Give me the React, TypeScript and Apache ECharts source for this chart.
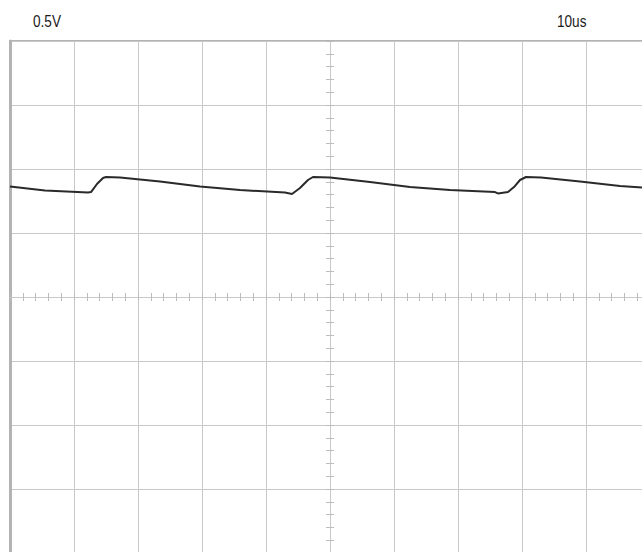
import React, { useEffect, useRef } from "react";
import * as echarts from "echarts";

const timeUs = [
  0, 5.47, 12.19, 12.66, 13.59, 14.53, 15.0, 17.19, 23.44, 29.69, 35.94, 42.97,
  44.06, 45.31, 46.56, 47.34, 50.0, 56.25, 62.5, 68.75, 75.78, 76.25, 77.81,
  78.75, 79.69, 80.63, 82.97, 89.06, 95.31, 98.75, 100,
];
const voltage = [
  0.863, 0.832, 0.816, 0.82, 0.883, 0.93, 0.9375, 0.934, 0.902, 0.863, 0.836,
  0.816, 0.805, 0.852, 0.914, 0.9375, 0.934, 0.898, 0.859, 0.836, 0.82, 0.809,
  0.82, 0.859, 0.914, 0.9375, 0.934, 0.902, 0.867, 0.855, 0.852,
];

const voltsPerDiv = 0.5;
const timePerDiv = 10;
const voltLabel = "0.5V";
const timeLabel = "10us";

export default function App() {
  const ref = useRef<HTMLDivElement>(null);
  useEffect(() => {
    if (!ref.current) return;
    const chart = echarts.init(ref.current, undefined, { renderer: "svg" });
    const gridColor = "#c9c9c9";
    const tickColor = "#bcbcbc";
    const fontFamily = "'Liberation Sans', Arial, sans-serif";
    const half = timePerDiv * 5;
    const xCommon = {
      type: "value" as const,
      min: -half,
      max: half,
      interval: timePerDiv,
      axisLabel: { show: false },
      splitLine: { show: false },
    };
    const yCommon = {
      type: "value" as const,
      min: -voltsPerDiv * 4,
      max: voltsPerDiv * 4,
      interval: voltsPerDiv,
      axisLabel: { show: false },
      splitLine: { show: false },
    };
    const tickSide = (inside: boolean) => ({
      axisTick: { show: true, inside, length: 4, lineStyle: { color: tickColor } },
      minorTick: { show: true, splitNumber: 5, length: 4, lineStyle: { color: tickColor } },
    });
    chart.setOption({
      animation: false,
      backgroundColor: "#ffffff",
      grid: {
        left: 10,
        top: 41,
        width: 640,
        height: 512,
        show: true,
        borderColor: "#b3b3b3",
        borderWidth: 2,
        backgroundColor: "transparent",
      },
      xAxis: [
        {
          ...xCommon,
          position: "bottom",
          axisLine: { show: false, onZero: false },
          axisTick: { show: false },
          splitLine: { show: true, lineStyle: { color: gridColor, width: 1 } },
        },
        {
          ...xCommon,
          axisLine: { show: true, onZero: true, lineStyle: { color: gridColor } },
          ...tickSide(true),
        },
        {
          ...xCommon,
          axisLine: { show: false, onZero: true },
          ...tickSide(false),
        },
      ],
      yAxis: [
        {
          ...yCommon,
          position: "left",
          axisLine: { show: true, onZero: false, lineStyle: { color: "#b3b3b3", width: 3 } },
          axisTick: { show: false },
          splitLine: { show: true, lineStyle: { color: gridColor, width: 1 } },
        },
        {
          ...yCommon,
          axisLine: { show: true, onZero: true, lineStyle: { color: gridColor } },
          ...tickSide(true),
        },
        {
          ...yCommon,
          axisLine: { show: false, onZero: true },
          ...tickSide(false),
        },
      ],
      graphic: [
        {
          type: "text",
          left: 33,
          top: 12,
          scaleX: 0.8,
          style: { text: voltLabel, fontSize: 17, fontFamily, fill: "#1a1a1a" },
        },
        {
          type: "text",
          left: 557,
          top: 12,
          scaleX: 0.8,
          style: { text: timeLabel, fontSize: 17, fontFamily, fill: "#1a1a1a" },
        },
      ],
      series: [
        {
          type: "line",
          xAxisIndex: 0,
          yAxisIndex: 0,
          data: timeUs.map((t, i) => [t - half, voltage[i]]),
          showSymbol: false,
          symbol: "none",
          lineStyle: { color: "#2a2a2a", width: 2 },
          clip: true,
        },
      ],
    });
    return () => chart.dispose();
  }, []);
  return (
    <div
      style={{
        position: "absolute",
        left: 0,
        top: 0,
        width: 642,
        height: 552,
        overflow: "hidden",
        background: "#fff",
      }}
    >
      <div ref={ref} style={{ width: 662, height: 572 }} />
    </div>
  );
}
